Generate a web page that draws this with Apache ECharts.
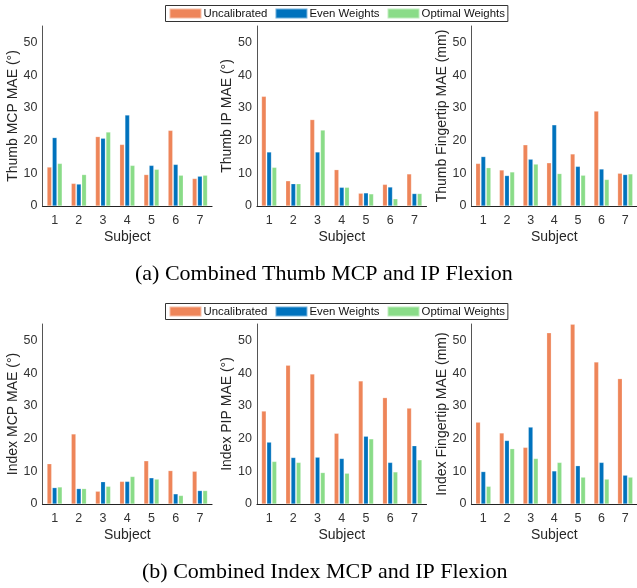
<!DOCTYPE html>
<html>
<head>
<meta charset="utf-8">
<script src="https://cdn.jsdelivr.net/npm/echarts@6/dist/echarts.min.js"></script>
<style>
html,body{margin:0;padding:0;background:#fff;}
#chart{width:637px;height:588px;}
</style>
</head>
<body>
<div id="chart"></div>
<script>
const categories = ['1','2','3','4','5','6','7'];
const seriesNames = ['Uncalibrated','Even Weights','Optimal Weights'];
const yTicks = [0,10,20,30,40,50];
const xAxisName = 'Subject';

const thumbMcpUncal = [11.9, 6.9, 21.2, 18.8, 9.6, 23.1, 8.4];
const thumbMcpEven  = [20.9, 6.7, 20.7, 27.8, 12.4, 12.7, 9.1];
const thumbMcpOpt   = [13.0, 9.6, 22.6, 12.4, 11.2, 9.4, 9.4];

const thumbIpUncal = [33.5, 7.7, 26.4, 11.1, 3.9, 6.6, 9.8];
const thumbIpEven  = [16.5, 6.8, 16.5, 5.7, 4.0, 5.8, 3.8];
const thumbIpOpt   = [11.8, 6.8, 23.2, 5.7, 3.7, 2.2, 3.8];

const thumbTipUncal = [13.0, 11.0, 18.7, 13.2, 15.9, 29.0, 10.0];
const thumbTipEven  = [15.1, 9.3, 14.3, 24.8, 12.1, 11.3, 9.6];
const thumbTipOpt   = [11.7, 10.4, 12.8, 9.9, 9.4, 8.1, 9.8];

const indexMcpUncal = [12.3, 21.4, 3.9, 6.9, 13.2, 10.2, 10.0];
const indexMcpEven  = [5.0, 4.7, 6.8, 6.9, 8.0, 3.1, 4.1];
const indexMcpOpt   = [5.2, 4.7, 5.4, 8.4, 7.6, 2.6, 4.1];

const indexPipUncal = [28.4, 42.4, 39.7, 21.6, 37.6, 32.5, 29.3];
const indexPipEven  = [18.9, 14.2, 14.3, 13.9, 20.7, 12.7, 17.8];
const indexPipOpt   = [13.0, 12.7, 9.6, 9.4, 19.9, 9.8, 13.5];

const indexTipUncal = [25.0, 21.7, 17.3, 52.3, 54.9, 43.4, 38.3];
const indexTipEven  = [9.9, 19.4, 23.5, 10.1, 11.7, 12.7, 8.8];
const indexTipOpt   = [5.4, 16.9, 13.9, 12.7, 8.2, 7.6, 8.2];

const yNames = [
  'Thumb MCP MAE (°)', 'Thumb IP MAE (°)', 'Thumb Fingertip MAE (mm)',
  'Index MCP MAE (°)', 'Index PIP MAE (°)', 'Index Fingertip MAE (mm)'
];
const panelData = [
  [thumbMcpUncal, thumbMcpEven, thumbMcpOpt],
  [thumbIpUncal, thumbIpEven, thumbIpOpt],
  [thumbTipUncal, thumbTipEven, thumbTipOpt],
  [indexMcpUncal, indexMcpEven, indexMcpOpt],
  [indexPipUncal, indexPipEven, indexPipOpt],
  [indexTipUncal, indexTipEven, indexTipOpt]
];
const captions = ['(a) Combined Thumb MCP and IP Flexion', '(b) Combined Index MCP and IP Flexion'];

const colors = ['#EE8559', '#0072BD', '#8ADC88'];
const gridLefts = [42.5, 257, 471.5];
const gridTops = [26, 324];
const sans = 'Liberation Sans, Arial, Helvetica, sans-serif';
const serif = 'Liberation Serif, Times New Roman, serif';

const grids = [], xAxes = [], yAxes = [], series = [];
for (let p = 0; p < 6; p++) {
  const row = Math.floor(p / 3), col = p % 3;
  grids.push({left: gridLefts[col], top: gridTops[row], width: 169.5, height: 180, containLabel: false});
  xAxes.push({
    type: 'category', gridIndex: p, data: categories,
    name: xAxisName, nameLocation: 'middle', nameGap: 24,
    nameTextStyle: {fontFamily: sans, fontSize: 14, color: '#262626'},
    axisLine: {show: true, lineStyle: {color: '#222', width: 1.2}},
    axisTick: {show: false},
    axisLabel: {fontFamily: sans, fontSize: 12.5, color: '#333', margin: 8}
  });
  yAxes.push({
    type: 'value', gridIndex: p, min: 0, max: 55, interval: 10,
    name: yNames[p], nameLocation: 'middle', nameGap: 21,
    nameTextStyle: {fontFamily: sans, fontSize: 14, color: '#262626'},
    axisLine: {show: true, lineStyle: {color: '#555', width: 1}},
    axisTick: {show: false},
    splitLine: {show: false},
    axisLabel: {fontFamily: sans, fontSize: 12.5, color: '#333', margin: 5,
      formatter: v => (yTicks.indexOf(v) >= 0 ? String(v) : '')}
  });
  for (let s = 0; s < 3; s++) {
    series.push({
      type: 'bar', name: seriesNames[s], xAxisIndex: p, yAxisIndex: p,
      data: panelData[p][s], barWidth: 4.6, barGap: '14%',
      itemStyle: {color: colors[s], borderColor: 'rgba(255,255,255,0.45)', borderWidth: 0.5},
      animation: false
    });
  }
}

const legendBase = {
  data: seriesNames, orient: 'horizontal', icon: 'rect',
  itemWidth: 32, itemHeight: 10, itemGap: 7,
  textStyle: {fontFamily: sans, fontSize: 11.4, color: '#111', padding: [0, 0, 0, -3]},
  borderColor: '#333', borderWidth: 1, backgroundColor: '#fff',
  padding: [2, 3, 2, 3], selectedMode: false
};

const option = {
  backgroundColor: '#fff',
  animation: false,
  title: [
    {text: captions[0], left: 135, top: 263, padding: 0,
     textStyle: {fontFamily: serif, fontWeight: 'normal', fontSize: 22, color: '#000'}},
    {text: captions[1], left: 142, top: 561, padding: 0,
     textStyle: {fontFamily: serif, fontWeight: 'normal', fontSize: 22, color: '#000'}}
  ],
  legend: [
    Object.assign({}, legendBase, {left: 165.5, top: 5.5}),
    Object.assign({}, legendBase, {left: 165.5, top: 303.5})
  ],
  grid: grids, xAxis: xAxes, yAxis: yAxes, series: series
};

const chart = echarts.init(document.getElementById('chart'), null, {renderer: 'canvas'});
chart.setOption(option);
</script>
</body>
</html>
